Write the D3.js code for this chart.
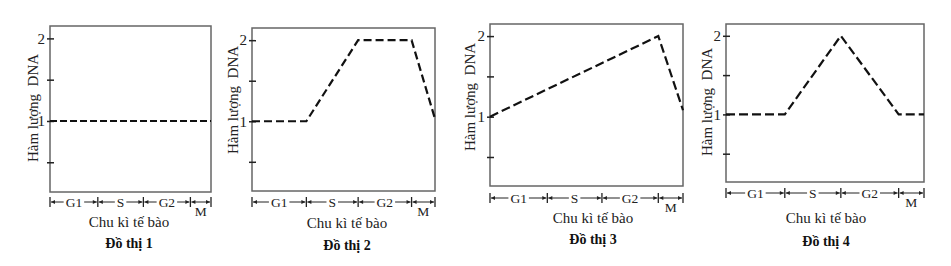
<!DOCTYPE html>
<html>
<head>
<meta charset="utf-8">
<script src="https://cdn.jsdelivr.net/npm/d3@7"></script>
<style>
  html, body { margin: 0; padding: 0; background: #fff; }
  svg { display: block; }
  svg text { font-family: "Liberation Serif", "Times New Roman", Tinos, "DejaVu Serif", serif !important; }
</style>
</head>
<body>
<svg id="chart" width="951" height="266"></svg>
<script>
// --- Données ---
const phases = ['G1', 'S', 'G2', 'M'];
const phaseBounds = [0, 2.97, 5.8, 8.72, 10];   // limites des phases (temps)
const yTicks = [0.5, 1, 1.5, 2];
const yTickLabels = ['', '1', '', '2'];

// [temps, quantité d'ADN]
const graph1 = [[0, 1], [10, 1]];
const graph2 = [[0, 1], [2.97, 1], [5.8, 2], [8.72, 2], [10, 1.03]];
const graph3 = [[0, 1], [8.72, 2], [10, 1.08]];
const graph4 = [[0, 1], [2.97, 1], [5.8, 2], [8.72, 1], [10, 1]];

const graphs = [graph1, graph2, graph3, graph4];
const titles = ['Đồ thị 1', 'Đồ thị 2', 'Đồ thị 3', 'Đồ thị 4'];

const serif = '"Liberation Serif", "Times New Roman", Tinos, "DejaVu Serif", serif';

// --- Mise en page de chaque panneau ---
const layout = [
    { left: 50,  right: 211, top: 26, bottom: 192, barY: 202, yLabX: 33,  yLabY: 108, capX: 129, capY: 227, titleY: 248, dash: '7,3' },
    { left: 252, right: 435, top: 28, bottom: 191, barY: 202, yLabX: 233, yLabY: 100, capX: 347, capY: 228, titleY: 250, dash: '8,4' },
    { left: 490, right: 683, top: 24, bottom: 186, barY: 198, yLabX: 470, yLabY: 97,  capX: 593, capY: 223, titleY: 244, dash: '9,4' },
    { left: 726, right: 924, top: 24, bottom: 182, barY: 193, yLabX: 707, yLabY: 102, capX: 826, capY: 223, titleY: 246, dash: '9,4' }
];

const svg = d3.select('#chart').attr('font-family', serif);

// flèche pour la barre des phases
svg.append('defs').append('marker')
    .attr('id', 'arrow')
    .attr('viewBox', '0 0 10 10')
    .attr('refX', 10)
    .attr('refY', 5)
    .attr('markerWidth', 5)
    .attr('markerHeight', 4)
    .attr('markerUnits', 'userSpaceOnUse')
    .attr('orient', 'auto-start-reverse')
    .append('path')
    .attr('d', 'M0,0 L10,5 L0,10 Z')
    .attr('fill', '#222');

graphs.forEach((data, i) => {
    const L = layout[i];
    const g = svg.append('g');

    const x = d3.scaleLinear().domain([0, 10]).range([L.left, L.right]);
    const y = d3.scaleLinear().domain([0.14, 2.15]).range([L.bottom, L.top]);

    // cadre
    g.append('rect')
        .attr('x', L.left)
        .attr('y', L.top)
        .attr('width', L.right - L.left)
        .attr('height', L.bottom - L.top)
        .attr('fill', 'none')
        .attr('stroke', '#666')
        .attr('stroke-width', 1.5);

    // graduations de l'axe y
    const yAxis = d3.axisLeft(y)
        .tickValues(yTicks)
        .tickSize(0)
        .tickPadding(5)
        .tickFormat((d, k) => yTickLabels[k]);

    const ax = g.append('g')
        .attr('transform', `translate(${L.left},0)`)
        .call(yAxis)
        .attr('font-family', serif)
        .attr('font-size', 15);
    ax.select('.domain').remove();
    ax.selectAll('.tick line')
        .attr('x1', -3)
        .attr('x2', 4)
        .attr('stroke', '#222')
        .attr('stroke-width', 1.5);
    ax.selectAll('.tick text')
        .attr('fill', '#222');

    // courbe pointillée
    const line = d3.line()
        .x(d => x(d[0]))
        .y(d => y(d[1]));

    g.append('path')
        .datum(data)
        .attr('d', line)
        .attr('fill', 'none')
        .attr('stroke', '#111')
        .attr('stroke-width', 2.2)
        .attr('stroke-dasharray', L.dash);

    // barre des phases
    const bar = g.append('g').attr('class', 'phase-bar');
    phaseBounds.forEach(b => {
        bar.append('line')
            .attr('x1', x(b)).attr('x2', x(b))
            .attr('y1', L.barY - 5).attr('y2', L.barY + 5)
            .attr('stroke', '#222')
            .attr('stroke-width', 1.3);
    });

    phases.forEach((p, k) => {
        const x0 = x(phaseBounds[k]);
        const x1 = x(phaseBounds[k + 1]);
        const mid = (x0 + x1) / 2;
        const isM = p === 'M';

        const label = bar.append('text')
            .attr('x', mid)
            .attr('y', isM ? L.barY + 14 : L.barY + 4.5)
            .attr('text-anchor', 'middle')
            .attr('font-size', 13.5)
            .attr('fill', '#222')
            .text(p);

        if (isM) {
            bar.append('line')
                .attr('x1', x0 + 1).attr('x2', x1 - 1)
                .attr('y1', L.barY).attr('y2', L.barY)
                .attr('stroke', '#222')
                .attr('marker-start', 'url(#arrow)')
                .attr('marker-end', 'url(#arrow)');
        } else {
            const w = label.node().getComputedTextLength();
            bar.append('line')
                .attr('x1', mid - w / 2 - 2).attr('x2', x0 + 1)
                .attr('y1', L.barY).attr('y2', L.barY)
                .attr('stroke', '#222')
                .attr('marker-end', 'url(#arrow)');
            bar.append('line')
                .attr('x1', mid + w / 2 + 2).attr('x2', x1 - 1)
                .attr('y1', L.barY).attr('y2', L.barY)
                .attr('stroke', '#222')
                .attr('marker-end', 'url(#arrow)');
        }
    });

    // titre de l'axe y
    g.append('text')
        .attr('transform', `translate(${L.yLabX},${L.yLabY}) rotate(-90)`)
        .attr('text-anchor', 'middle')
        .attr('dominant-baseline', 'central')
        .attr('font-size', 15)
        .attr('fill', '#222')
        .text('Hàm lượng\u00a0 DNA');

    // légende de l'axe x et titre
    g.append('text')
        .attr('x', L.capX)
        .attr('y', L.capY)
        .attr('text-anchor', 'middle')
        .attr('font-size', 15)
        .attr('fill', '#222')
        .text('Chu kì tế bào');

    g.append('text')
        .attr('x', L.capX)
        .attr('y', L.titleY)
        .attr('text-anchor', 'middle')
        .attr('font-size', 14)
        .attr('font-weight', 'bold')
        .attr('fill', '#111')
        .text(titles[i]);
});
</script>
</body>
</html>
